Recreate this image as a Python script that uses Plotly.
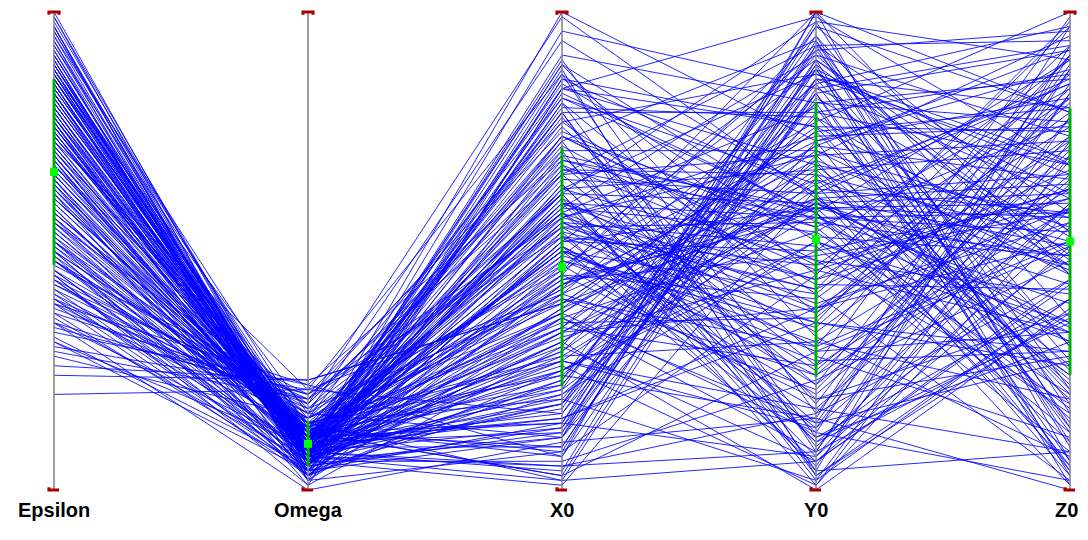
import numpy as np
import plotly.graph_objects as go

# Wartości w procentach zakresu każdej osi (0 = dół, 100 = góra)
dims = ['Epsilon', 'Omega', 'X0', 'Y0', 'Z0']

epsilon = [88, 72, 41, 61, 79, 45, 83, 48, 67, 54,
           36, 76, 38, 85, 70, 44, 58, 81, 64, 52,
           49, 87, 74, 30, 39, 66, 80, 56, 46, 71,
           43, 86, 62, 31, 77, 52, 89, 68, 35, 50,
           75, 59, 84, 100, 47, 78, 63, 42, 55, 82,
           26, 73, 88, 65, 37, 50, 79, 86, 42, 69,
           53, 57, 83, 74, 33, 90, 61, 77, 45, 48,
           85, 68, 32, 53, 80, 40, 87, 72, 49, 60,
           76, 89, 46, 81, 64, 40, 51, 70, 35, 37,
           84, 66, 51, 58, 78, 44, 88, 73, 20, 90,
           62, 83, 97, 55, 75, 86, 29, 69, 94, 79,
           41, 91, 67, 82, 56, 99, 71, 87, 48, 63,
           95, 77, 34, 89, 60, 84, 74, 52, 92, 68,
           80, 45, 97, 65, 86, 57, 78, 93, 39, 72,
           88, 61, 83, 50, 96, 70, 24, 85, 76, 91,
           82, 57, 93, 46, 71, 88, 63, 39, 77, 98,
           54, 85, 68, 31, 90, 74, 59, 96, 43, 80,
           66, 92, 50, 76, 87, 35, 62, 95, 70, 48,
           83, 58, 99, 73, 44, 89, 65, 52, 78, 94,
           28, 81, 69, 91, 56, 75, 86, 40, 97, 64]

omega = [8, 10, 5, 13, 6, 3, 11, 7, 12, 9,
         6, 9, 18, 4, 7, 8, 14, 11, 2, 5,
         12, 6, 14, 21, 3, 10, 9, 8, 6, 8,
         15, 7, 9, 4, 9, 12, 10, 11, 19, 3,
         9, 8, 11, 6, 20, 7, 12, 5, 8, 7,
         23, 10, 9, 8, 4, 14, 8, 12, 16, 7,
         6, 11, 9, 11, 22, 5, 13, 7, 1, 13,
         8, 9, 5, 14, 10, 17, 7, 9, 3, 11,
         7, 6, 15, 10, 9, 4, 13, 8, 0, 20,
         11, 10, 7, 12, 6, 18, 6, 8, 21, 5,
         10, 8, 3, 13, 10, 7, 19, 8, 2, 9,
         14, 6, 9, 10, 12, 4, 11, 8, 17, 10,
         5, 7, 20, 7, 10, 10, 12, 16, 3, 9,
         8, 16, 6, 10, 9, 13, 10, 7, 22, 10,
         4, 12, 9, 15, 6, 11, 23, 8, 11, 8,
         9, 4, 12, 7, 15, 10, 6, 13, 2, 8,
         11, 5, 17, 9, 3, 14, 7, 10, 19, 6,
         12, 8, 4, 11, 16, 9, 1, 13, 7, 10,
         5, 14, 8, 21, 6, 11, 3, 9, 12, 7,
         15, 10, 4, 8, 18, 6, 13, 9, 2, 11]

x0 = [34, 78, 12, 55, 51, 23, 67, 45, 3, 82,
      49, 15, 71, 38, 56, 60, 27, 84, 8, 52,
      41, 69, 19, 87, 33, 58, 100, 5, 74, 46,
      62, 29, 50, 11, 53, 37, 80, 21, 66, 43,
      60, 17, 57, 31, 75, 2, 48, 86, 25, 64,
      39, 72, 9, 51, 83, 28, 61, 14, 58, 44,
      36, 77, 20, 56, 7, 68, 42, 88, 30, 59,
      13, 50, 81, 24, 65, 40, 62, 18, 54, 32,
      73, 6, 47, 85, 26, 63, 35, 52, 10, 57,
      44, 79, 22, 60, 1, 70, 38, 89, 16, 52,
      30, 66, 45, 8, 76, 41, 55, 19, 84, 33,
      62, 27, 63, 12, 49, 71, 36, 4, 58, 43,
      87, 21, 53, 67, 34, 15, 79, 46, 25, 63,
      40, 94, 11, 56, 29, 74, 50, 18, 69, 37,
      48, 3, 61, 82, 23, 54, 39, 90, 14, 31,
      27, 64, 9, 81, 42, 55, 18, 73, 36, 91,
      50, 13, 68, 24, 86, 39, 5, 59, 77, 31,
      45, 96, 20, 62, 11, 53, 84, 34, 70, 16,
      57, 2, 79, 41, 28, 66, 47, 89, 22, 60,
      37, 74, 14, 51, 99, 33, 7, 58, 43, 25]

y0 = [71, 18, 94, 42, 6, 83, 57, 100, 29, 64,
      88, 35, 2, 76, 51, 57, 13, 68, 45, 90,
      24, 59, 81, 8, 59, 38, 73, 16, 55, 92,
      4, 66, 31, 86, 47, 12, 78, 61, 22, 61,
      39, 93, 70, 0, 53, 84, 27, 62, 58, 10,
      75, 43, 89, 20, 58, 60, 33, 7, 80, 49,
      14, 87, 65, 37, 100, 26, 72, 3, 91, 54,
      82, 41, 11, 69, 62, 30, 60, 85, 5, 46,
      94, 23, 77, 52, 1, 67, 36, 59, 15, 74,
      57, 9, 88, 44, 63, 19, 61, 32, 79, 50,
      6, 70, 40, 93, 28, 85, 56, 2, 76, 64,
      98, 17, 48, 83, 35, 71, 8, 90, 25, 59,
      45, 95, 13, 66, 81, 38, 4, 73, 52, 87,
      21, 62, 100, 30, 78, 47, 11, 92, 55, 68,
      34, 86, 7, 58, 97, 42, 75, 16, 89, 60,
      63, 12, 88, 37, 95, 22, 70, 3, 54, 81,
      29, 97, 46, 15, 76, 60, 8, 91, 41, 67,
      19, 84, 52, 1, 73, 35, 99, 26, 58, 90,
      44, 6, 79, 65, 31, 93, 17, 56, 86, 10,
      72, 48, 98, 24, 61, 38, 83, 14, 69, 50]

z0 = [45, 88, 21, 67, 51, 12, 54, 79, 33, 3,
      62, 91, 40, 75, 8, 58, 83, 26, 97, 49,
      71, 15, 86, 36, 60, 59, 5, 44, 77, 30,
      93, 52, 19, 68, 82, 2, 47, 64, 89, 24,
      56, 10, 73, 38, 49, 61, 29, 85, 17, 50,
      80, 42, 1, 65, 90, 34, 72, 55, 13, 58,
      27, 69, 46, 84, 6, 59, 92, 37, 74, 20,
      53, 87, 31, 4, 66, 52, 43, 18, 78, 63,
      9, 48, 100, 35, 70, 23, 81, 57, 0, 76,
      39, 60, 14, 61, 86, 28, 51, 7, 68, 90,
      44, 22, 79, 58, 11, 97, 33, 73, 50, 85,
      16, 64, 41, 92, 26, 55, 83, 3, 70, 47,
      98, 36, 60, 19, 77, 52, 8, 88, 31, 66,
      74, 5, 45, 91, 25, 63, 40, 96, 12, 57,
      82, 30, 69, 1, 54, 93, 21, 78, 48, 35,
      58, 91, 27, 74, 13, 66, 95, 40, 84, 6,
      51, 79, 33, 97, 20, 62, 88, 45, 2, 71,
      37, 93, 16, 59, 82, 29, 68, 99, 10, 54,
      76, 43, 87, 24, 63, 94, 8, 49, 80, 35,
      65, 18, 90, 56, 31, 73, 4, 85, 47, 61]

data = np.array([epsilon, omega, x0, y0, z0], dtype=float)
n_dim, n_rows = data.shape
xs = np.arange(n_dim)

fig = go.Figure()

# linie danych - jeden trace z przerwami
lx, ly = [], []
for r in range(n_rows):
    lx += list(xs) + [None]
    ly += list(data[:, r]) + [None]
fig.add_trace(go.Scatter(x=lx, y=ly, mode='lines',
                         line=dict(color='rgba(0,0,255,0.85)', width=1),
                         hoverinfo='skip', showlegend=False))

# osie
ax_x, ax_y = [], []
for i in xs:
    ax_x += [i, i, None]
    ax_y += [0, 100, None]
fig.add_trace(go.Scatter(x=ax_x, y=ax_y, mode='lines',
                         line=dict(color='#808080', width=1.5),
                         hoverinfo='skip', showlegend=False))

# średnia +/- odchylenie
means = data.mean(axis=1)
stds = data.std(axis=1)
bx, by = [], []
for i in xs:
    bx += [i, i, None]
    by += [means[i] - stds[i], means[i] + stds[i], None]
fig.add_trace(go.Scatter(x=bx, y=by, mode='lines',
                         line=dict(color='#00b000', width=3),
                         hoverinfo='skip', showlegend=False))
fig.add_trace(go.Scatter(x=xs, y=means, mode='markers',
                         marker=dict(symbol='square', size=8, color='#00ff00'),
                         hoverinfo='skip', showlegend=False))

# czerwone znaczniki min/max
dx = 0.02
dy = 0.6
cx, cy = [], []
for i in xs:
    cx += [i - dx, i - dx, i + dx, i + dx, None]
    cy += [100 - dy, 100, 100, 100 - dy, None]
    cx += [i - dx, i - dx, i + dx, None]
    cy += [dy, 0, 0, None]
fig.add_trace(go.Scatter(x=cx, y=cy, mode='lines',
                         line=dict(color='#aa0000', width=3),
                         hoverinfo='skip', showlegend=False))

for i, name in enumerate(dims):
    # ostatni podpis trochę w lewo, żeby się nie ucinał
    shift = -4 if i == n_dim - 1 else 0
    fig.add_annotation(x=i, y=-4.2, text='<b>%s</b>' % name, showarrow=False,
                       xshift=shift,
                       font=dict(family='Liberation Sans, Arial', size=20, color='black'))

# strona ma 8px marginesu - figura mniejsza, żeby nie było przewijania
fig.update_xaxes(range=[-46 / 254, 4 + 10 / 254], visible=False)
fig.update_yaxes(range=[-42 / 4.78, 100 + 4 / 4.78], visible=False)
fig.update_layout(width=1072, height=524, margin=dict(l=0, r=0, t=0, b=0),
                  plot_bgcolor='white', paper_bgcolor='white')

fig.write_html("out.html")
